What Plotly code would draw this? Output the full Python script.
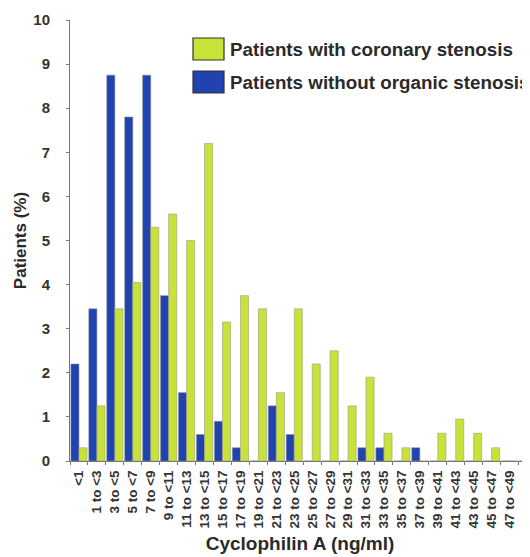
import plotly.graph_objects as go

categories = ["<1", "1 to <3", "3 to <5", "5 to <7", "7 to <9", "9 to <11", "11 to <13",
              "13 to <15", "15 to <17", "17 to <19", "19 to <21", "21 to <23", "23 to <25",
              "25 to <27", "27 to <29", "29 to <31", "31 to <33", "33 to <35", "35 to <37",
              "37 to <39", "39 to <41", "41 to <43", "43 to <45", "45 to <47", "47 to <49", "49<"]

without_stenosis = [2.2, 3.45, 8.75, 7.8, 8.75, 3.75, 1.55, 0.6, 0.9, 0.3, 0, 1.25, 0.6,
                    0, 0, 0, 0.3, 0.3, 0, 0.3, 0, 0, 0, 0, 0, 0]
with_stenosis = [0.3, 1.25, 3.45, 4.05, 5.3, 5.6, 5.0, 7.2, 3.15, 3.75, 3.45, 1.55, 3.45,
                 2.2, 2.5, 1.25, 1.9, 0.63, 0.3, 0, 0.63, 0.95, 0.63, 0.3, 0, 0.3]

series_names = ["Patients with coronary stenosis", "Patients without organic stenosis"]
y_ticks = [0, 1, 2, 3, 4, 5, 6, 7, 8, 9, 10]

GREEN = "#c9e23a"
BLUE = "#2143b0"
FONT = "Liberation Sans, Arial, sans-serif"

# page has an 8px body margin: figure drawn at (8, 8)
OFF = 8
PL, PT, PW, PH = 70, 20, 460, 441   # plot area in window pixels

def px(x):
    return (x - PL) / PW

def py(y):
    return (PT + PH - y) / PH

fig = go.Figure()
fig.add_trace(go.Bar(x=categories, y=without_stenosis, name=series_names[1],
                     marker=dict(color=BLUE, line=dict(color="#7f8a9a", width=0.6))))
fig.add_trace(go.Bar(x=categories, y=with_stenosis, name=series_names[0],
                     marker=dict(color=GREEN, line=dict(color="#9a9a80", width=0.6))))

# custom legend (large swatches like the original)
legend_items = [(series_names[0], GREEN, 38), (series_names[1], BLUE, 71)]
for name, col, ytop in legend_items:
    fig.add_shape(type="rect", xref="paper", yref="paper",
                  x0=px(193), x1=px(224), y0=py(ytop), y1=py(ytop + 22),
                  fillcolor=col, line=dict(color="#333333", width=1.2))
    fig.add_annotation(xref="paper", yref="paper", x=px(228), y=py(ytop + 11),
                       xanchor="left", yanchor="middle",
                       text="<b>%s</b>" % name, showarrow=False,
                       font=dict(family=FONT, size=18.8, color="#2a2a2a"))

fig.update_layout(
    width=530 - OFF, height=557 - OFF,
    margin=dict(l=PL - OFF, r=0, t=PT - OFF, b=557 - (PT + PH)),
    paper_bgcolor="white", plot_bgcolor="white",
    barmode="group", bargap=0.1, bargroupgap=0.0,
    showlegend=False,
    font=dict(family=FONT, color="#333333"),
)
fig.update_xaxes(
    type="category", range=[-0.5, 25.14], automargin=False,
    tickangle=-90, tickfont=dict(family=FONT, size=13.5, color="#333333"),
    tickvals=categories, ticktext=["<b>%s</b>" % c for c in categories],
    ticklabelstandoff=3,
    showline=True, linecolor="#777777", linewidth=1,
    ticks="outside", tickson="boundaries", ticklen=3, tickcolor="#777777",
    showgrid=False,
    title=dict(text="<b>Cyclophilin A (ng/ml)</b>", font=dict(family=FONT, size=19, color="#2a2a2a"),
               standoff=9),
)
fig.update_yaxes(
    range=[0, 10], automargin=False,
    tickvals=y_ticks, ticktext=["<b>%d</b>" % v for v in y_ticks],
    tickfont=dict(family=FONT, size=15, color="#333333"),
    ticklabelstandoff=13,
    showline=True, linecolor="#777777", linewidth=1,
    ticks="outside", ticklen=3, tickcolor="#777777",
    showgrid=False, zeroline=False,
    title=dict(text="<b>Patients (%)</b>", font=dict(family=FONT, size=17, color="#2a2a2a"),
               standoff=2),
)

fig.write_html("out.html")
